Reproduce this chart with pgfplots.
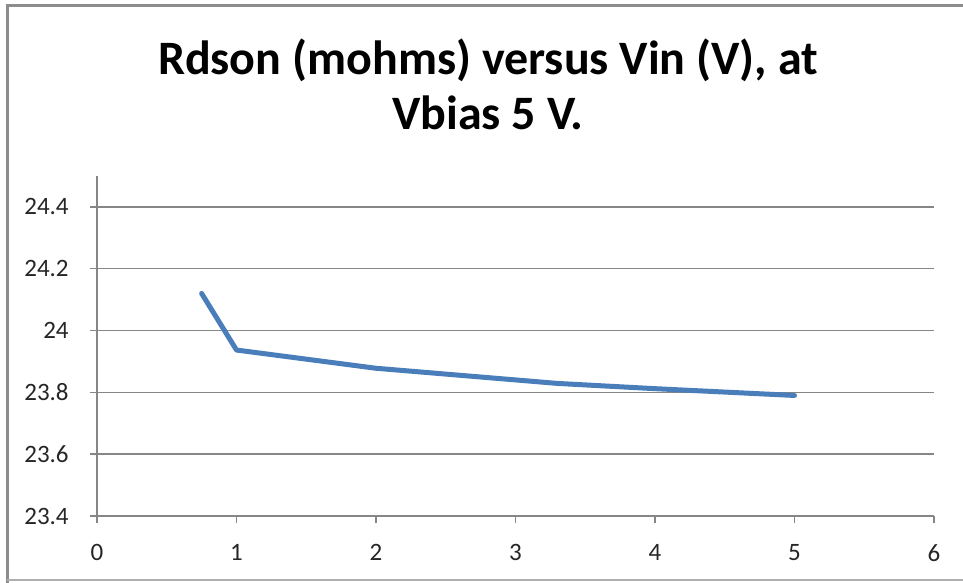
\documentclass[border=0pt]{standalone}
\usepackage{pgfplots}
\pgfplotsset{compat=1.18}
\usepackage{fontspec}
\setmainfont{Carlito}
\definecolor{linec}{HTML}{4A7EBB}
\definecolor{gridc}{HTML}{868686}
\definecolor{framec}{HTML}{8C8C8C}
\begin{document}
\begin{tikzpicture}[x=0.4pt,y=-0.4pt]
\useasboundingbox (0,0) rectangle (963,582);
\clip (0,0) rectangle (963,582);
\fill[white] (0,0) rectangle (963,582);
\draw[framec, line width=1pt] (7.5,600) -- (7.5,5.5) -- (990,5.5);
\draw[framec!70, line width=0.5pt] (7.5,580) -- (990,580);
\node[anchor=base, font=\bfseries\fontsize{19.2}{23}\selectfont] at (488,74) {Rdson (mohms) versus Vin (V), at};
\node[anchor=base, font=\bfseries\fontsize{19.2}{23}\selectfont] at (488,129) {Vbias 5 V.};
\begin{axis}[
  at={(38.8pt,-206.4pt)}, anchor=south west,
  scale only axis, width=334.8pt, height=136pt,
  xmin=0, xmax=6, ymin=23.4, ymax=24.5,
  xtick={0,1,2,3,4,5,6},
  ytick={23.4,23.6,23.8,24,24.2,24.4},
  yticklabels={23.4,23.6,23.8,24,24.2,24.4},
  axis lines=left,
  axis line style={gridc, line width=0.6pt, -},
  tick style={gridc, line width=0.6pt},
  tick align=outside,
  major tick length=2.8pt,
  ymajorgrids=true,
  grid style={gridc, line width=0.6pt},
  ticklabel style={font=\fontsize{10}{12}\selectfont, text=black!85},
  /pgf/number format/assume math mode=true,
  xticklabel style={yshift=-5pt},
  yticklabel style={xshift=-5pt},
  clip=false,
]
\addplot[linec, line width=2pt, line join=round, line cap=round] coordinates {
(0.75,24.12) (1,23.937) (2,23.878) (3.3,23.829) (4,23.812) (5,23.79)
};
\end{axis}
\end{tikzpicture}
\end{document}
